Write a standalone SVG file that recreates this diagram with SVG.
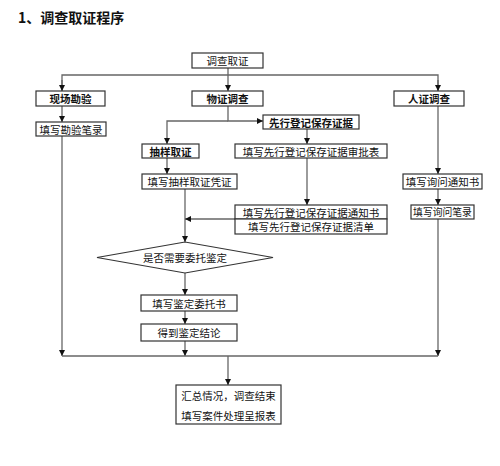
<svg xmlns="http://www.w3.org/2000/svg" width="500" height="466" viewBox="0 0 500 466">
<style>
.bg{fill:#fff}
.box{fill:#fff;stroke:#333;stroke-width:1.2}
.ln{fill:none;stroke:#666;stroke-width:1.3}
text{font-family:"Noto Sans CJK SC","Liberation Sans",sans-serif;font-size:10.5px;fill:#111;text-anchor:middle;dominant-baseline:central}
.b{font-weight:bold}
.s{font-size:9.8px}
.title{font-size:14px;font-weight:bold;text-anchor:start}
</style>
<defs>
<marker id="ah" markerUnits="userSpaceOnUse" markerWidth="7" markerHeight="7" refX="6" refY="3.5" orient="auto">
<path d="M0,0.5 L6,3.5 L0,6.5 Z" fill="#111"/>
</marker>
</defs>
<rect class="bg" x="0" y="0" width="500" height="466"/>
<text class="title" x="18" y="17">1、调查取证程序</text>
<g id="connectors">
<path class="ln" d="M228,68 V91" marker-end="url(#ah)"/>
<path class="ln" d="M62,91 V75 H438 V91" />
<path class="ln" d="M62,80 V91" marker-end="url(#ah)"/>
<path class="ln" d="M438,80 V91" marker-end="url(#ah)"/>
<path class="ln" d="M62,106 V122" marker-end="url(#ah)"/>
<path class="ln" d="M228,106 V121 H263" marker-end="url(#ah)"/>
<path class="ln" d="M228,121 H167 V144" marker-end="url(#ah)"/>
<path class="ln" d="M307,129 V144" marker-end="url(#ah)"/>
<path class="ln" d="M167,158 V174" marker-end="url(#ah)"/>
<path class="ln" d="M307,158 V205" marker-end="url(#ah)"/>
<path class="ln" d="M185,189 V242" marker-end="url(#ah)"/>
<path class="ln" d="M235,219 H185" marker-end="url(#ah)"/>
<path class="ln" d="M185,273 V295" marker-end="url(#ah)"/>
<path class="ln" d="M185,311 V324" marker-end="url(#ah)"/>
<path class="ln" d="M185,341 V356" marker-end="url(#ah)"/>
<path class="ln" d="M438,106 V174" marker-end="url(#ah)"/>
<path class="ln" d="M438,189 V205" marker-end="url(#ah)"/>
<path class="ln" d="M438,219 V356" marker-end="url(#ah)"/>
<path class="ln" d="M62,136 V356" marker-end="url(#ah)"/>
<path class="ln" d="M62,356 H438"/>
<path class="ln" d="M228,356 V385" marker-end="url(#ah)"/>
</g>
<g id="n-dczq"><rect class="box" x="192" y="53" width="71" height="15"/><text x="227.5" y="60.5">调查取证</text></g>
<g id="n-xckc"><rect class="box" x="36" y="91" width="69" height="15"/><text class="b" x="70.5" y="98.5">现场勘验</text></g>
<g id="n-wzdc"><rect class="box" x="192" y="91" width="71" height="15"/><text class="b" x="227.5" y="98.5">物证调查</text></g>
<g id="n-rzdc"><rect class="box" x="394" y="91" width="70" height="15"/><text class="b" x="429" y="98.5">人证调查</text></g>
<g id="n-kybl"><rect class="box" x="36" y="122" width="70" height="14"/><text x="71" y="129">填写勘验笔录</text></g>
<g id="n-xxdj"><rect class="box" x="263" y="115" width="96" height="14"/><text class="b" x="311" y="122">先行登记保存证据</text></g>
<g id="n-cyqz"><rect class="box" x="142" y="144" width="57" height="14"/><text class="b" x="170.5" y="151">抽样取证</text></g>
<g id="n-spb"><rect class="box" x="235" y="144" width="152" height="14"/><text x="311" y="151">填写先行登记保存证据审批表</text></g>
<g id="n-pz"><rect class="box" x="142" y="174" width="95" height="15"/><text x="189.5" y="181.5">填写抽样取证凭证</text></g>
<g id="n-xwtz"><rect class="box" x="403" y="174" width="79" height="15"/><text x="442.5" y="181.5">填写询问通知书</text></g>
<g id="n-tzs"><rect class="box" x="235" y="205" width="152" height="14"/><text x="311" y="212">填写先行登记保存证据通知书</text></g>
<g id="n-qd"><rect class="box" x="235" y="219" width="152" height="15"/><text x="311" y="226.5">填写先行登记保存证据清单</text></g>
<g id="n-xwbl"><rect class="box" x="411" y="205" width="63" height="14"/><text class="s" x="442.5" y="212">填写询问笔录</text></g>
<g id="n-sfxy"><polygon class="box" points="97,257.5 185,242 273,257.5 185,273"/><text x="185" y="257.5">是否需要委托鉴定</text></g>
<g id="n-wts"><rect class="box" x="141" y="295" width="96" height="16"/><text x="189" y="303">填写鉴定委托书</text></g>
<g id="n-jl"><rect class="box" x="141" y="324" width="96" height="17"/><text x="189" y="332.5">得到鉴定结论</text></g>
<g id="n-hz"><rect class="box" x="176" y="385" width="105" height="39"/><text x="228.5" y="395">汇总情况，调查结束</text><text x="228.5" y="415">填写案件处理呈报表</text></g>
</svg>
